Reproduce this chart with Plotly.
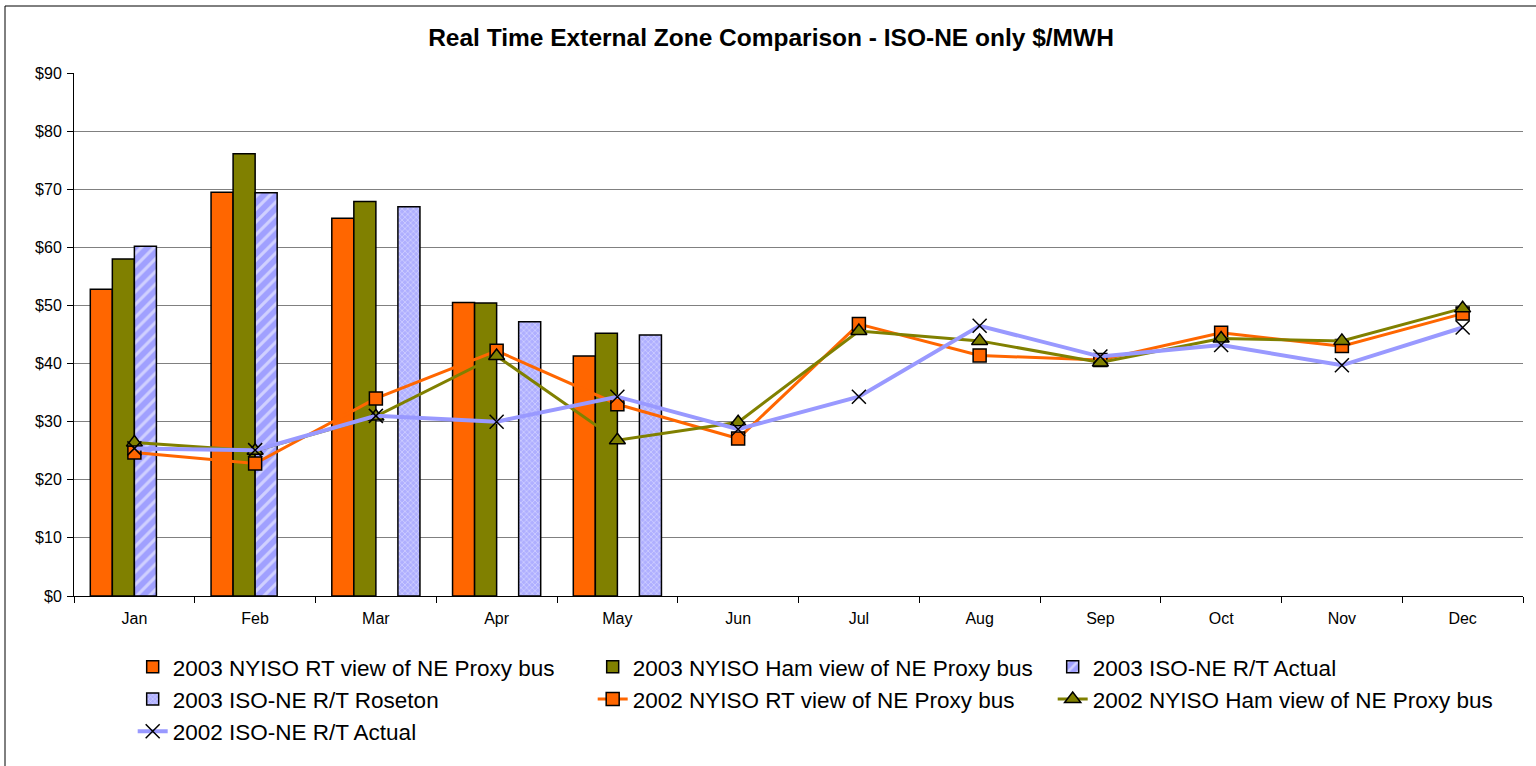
import plotly.graph_objects as go

months = ["Jan", "Feb", "Mar", "Apr", "May", "Jun", "Jul", "Aug", "Sep", "Oct", "Nov", "Dec"]

rt_2003 = [52.8, 69.5, 65.0, 50.5, 41.3, None, None, None, None, None, None, None]
ham_2003 = [58.0, 76.1, 67.9, 50.4, 45.2, None, None, None, None, None, None, None]
actual_2003 = [60.2, 69.4, None, None, None, None, None, None, None, None, None, None]
roseton_2003 = [None, None, 67.0, 47.2, 44.9, None, None, None, None, None, None, None]

rt_2002 = [24.7, 22.8, 34.0, 42.2, 33.0, 27.1, 46.8, 41.4, 40.6, 45.3, 43.0, 48.6]
ham_2002 = [26.4, 25.0, 30.9, 41.3, 26.8, 29.9, 45.6, 43.9, 40.2, 44.3, 43.9, 49.5]
actual_2002 = [25.4, 25.1, 31.0, 30.0, 34.3, 28.7, 34.3, 46.5, 41.2, 43.2, 39.7, 46.2]

ORANGE = "#FF6600"
OLIVE = "#808000"
LAV = "#9999FF"
FONT = "Arial, Liberation Sans, sans-serif"

W, H = 1536, 766
ML, MR, MT, MB = 74, 13, 73, 170
PW = W - ML - MR
PH = H - MT - MB

fig = go.Figure()

fig.add_trace(go.Bar(x=months, y=rt_2003, name="2003 NYISO RT view of NE Proxy bus",
                     marker=dict(color=ORANGE, line=dict(color="black", width=1.5))))
fig.add_trace(go.Bar(x=months, y=ham_2003, name="2003 NYISO Ham view of NE Proxy bus",
                     marker=dict(color=OLIVE, line=dict(color="black", width=1.5))))
fig.add_trace(go.Bar(x=months, y=actual_2003, name="2003 ISO-NE R/T Actual",
                     marker=dict(color="#A6A6FF", line=dict(color="black", width=1.5),
                                 pattern=dict(shape="/", fgcolor="white", bgcolor="#A0A0FF",
                                              size=9, solidity=0.35, fillmode="overlay"))))
fig.add_trace(go.Bar(x=months, y=roseton_2003, name="2003 ISO-NE R/T Roseton",
                     marker=dict(color="#C8C8FF", line=dict(color="black", width=1.5),
                                 pattern=dict(shape="x", fgcolor="white", bgcolor="#AFAFFF",
                                              size=4, solidity=0.3, fillmode="overlay"))))

fig.add_trace(go.Scatter(x=months, y=rt_2002, name="2002 NYISO RT view of NE Proxy bus",
                         mode="lines+markers", line=dict(color=ORANGE, width=3),
                         marker=dict(symbol="square", size=13, color=ORANGE,
                                     line=dict(color="black", width=1.5))))
fig.add_trace(go.Scatter(x=months, y=ham_2002, name="2002 NYISO Ham view of NE Proxy bus",
                         mode="lines+markers", line=dict(color=OLIVE, width=3),
                         marker=dict(symbol="triangle-up", size=14, color=OLIVE,
                                     line=dict(color="black", width=1.5))))
fig.add_trace(go.Scatter(x=months, y=actual_2002, name="2002 ISO-NE R/T Actual",
                         mode="lines+markers", line=dict(color=LAV, width=4),
                         marker=dict(symbol="x-thin-open", size=14, color="black",
                                     line=dict(color="black", width=1.5))))

fig.update_layout(
    width=W, height=H,
    margin=dict(l=ML, r=MR, t=MT, b=MB),
    paper_bgcolor="white", plot_bgcolor="white",
    font=dict(family=FONT, color="black", size=16),
    title=dict(text="<b>Real Time External Zone Comparison - ISO-NE only $/MWH</b>",
               x=771 / W, xanchor="center", y=1 - 37 / H, yanchor="middle",
               font=dict(size=24.5, family=FONT, color="black")),
    barmode="group", bargap=0.27, bargroupgap=0,
    showlegend=True,
    legend=dict(orientation="h", x=0.0405, xanchor="left", y=-0.095, yanchor="top",
                entrywidth=415, entrywidthmode="pixels",
                font=dict(size=22.5, family=FONT), tracegroupgap=0,
                bgcolor="rgba(0,0,0,0)"),
    shapes=[dict(type="rect", xref="paper", yref="paper",
                 x0=(5 - ML) / PW, x1=(W + 20 - ML) / PW,
                 y0=-(H + 30 - MT - PH) / PH, y1=1 + (MT - 6) / PH,
                 line=dict(color="black", width=1), fillcolor="rgba(0,0,0,0)", layer="below")],
)

fig.update_xaxes(type="category", range=[-0.5, 11.5], showgrid=False, showline=True,
                 linecolor="black", linewidth=1,
                 ticks="outside", tickson="boundaries", ticklen=6, tickcolor="black",
                 ticklabelstandoff=8,
                 tickfont=dict(size=16, family=FONT), mirror=False)
fig.update_yaxes(range=[0, 90], dtick=10, tickprefix="$", showgrid=True, gridcolor="#808080",
                 gridwidth=1, showline=True, linecolor="black", linewidth=1,
                 ticks="outside", ticklen=6, tickcolor="black", ticklabelstandoff=2,
                 tickfont=dict(size=16, family=FONT), zeroline=False)

fig.write_html("out.html", config={"displayModeBar": False},
               post_script="document.body.style.margin='0';")
